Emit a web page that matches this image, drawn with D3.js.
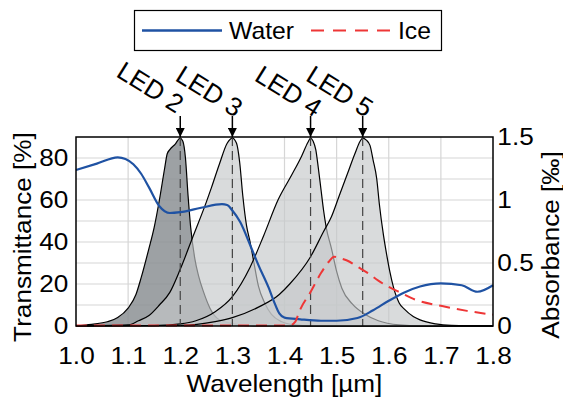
<!DOCTYPE html>
<html>
<head>
<meta charset="utf-8">
<script src="https://cdn.jsdelivr.net/npm/d3@7"></script>
<style>
  body { margin: 0; background: #fff; }
  text { font-family: "Liberation Sans", Arial, sans-serif; }
</style>
</head>
<body>
<div id="chart"></div>
<script>
// wavelength ticks and axis labels
var xTicks = [1.0, 1.1, 1.2, 1.3, 1.4, 1.5, 1.6, 1.7, 1.8];
var leftTicks = [0, 20, 40, 60, 80];
var leftGrid = [10, 20, 30, 40, 50, 60, 70, 80];
var rightTicks = [0, 0.5, 1, 1.5];

// water transmittance [%] (left axis)
var waterX = [1.00, 1.04, 1.08, 1.095, 1.11, 1.125, 1.14, 1.16, 1.18, 1.20, 1.24, 1.28, 1.29, 1.30, 1.315, 1.335, 1.35, 1.37, 1.38, 1.39, 1.40, 1.43, 1.47, 1.50, 1.54, 1.57, 1.60, 1.63, 1.66, 1.70, 1.74, 1.77, 1.80];
var waterY = [74.3, 77.3, 80.3, 79.5, 77.0, 72.5, 66.0, 57.0, 53.8, 54.2, 56.3, 58.0, 57.6, 55.0, 49.5, 38.0, 29.0, 18.0, 11.5, 6.0, 4.0, 3.2, 2.5, 2.5, 3.8, 7.5, 12.0, 16.0, 18.8, 20.3, 19.4, 16.3, 19.4];

// ice absorbance [per mille] (right axis)
var iceX = [1.00, 1.41, 1.42, 1.43, 1.45, 1.47, 1.485, 1.495, 1.505, 1.52, 1.54, 1.56, 1.58, 1.60, 1.62, 1.65, 1.70, 1.75, 1.80];
var iceY = [0.004, 0.004, 0.03, 0.13, 0.27, 0.42, 0.51, 0.55, 0.54, 0.52, 0.47, 0.42, 0.36, 0.31, 0.27, 0.21, 0.16, 0.12, 0.09];

// LED spectra, drawn on the left axis scale
var ledNames = ["LED 2", "LED 3", "LED 4", "LED 5"];
var ledPeaks = [1.20, 1.30, 1.45, 1.55];
var led2X = [1.00, 1.03, 1.06, 1.08, 1.10, 1.115, 1.125, 1.14, 1.15, 1.16, 1.17, 1.175, 1.18, 1.19, 1.20, 1.205, 1.21, 1.215, 1.22, 1.228, 1.235, 1.245, 1.257, 1.275, 1.30, 1.34, 1.80];
var led2Y = [0, 0.8, 2, 4, 8.5, 15, 23, 37, 47, 60, 75, 82, 84, 86.5, 89.5, 88, 80, 62, 47, 32, 24, 16, 8.5, 3, 1.2, 0, 0];
var led3X = [1.00, 1.10, 1.12, 1.14, 1.16, 1.18, 1.20, 1.225, 1.25, 1.26, 1.275, 1.29, 1.30, 1.308, 1.314, 1.32, 1.327, 1.334, 1.34, 1.35, 1.362, 1.375, 1.395, 1.42, 1.45, 1.80];
var led3Y = [0, 0.5, 2.5, 5, 10, 16, 27, 43, 59, 66, 77, 87, 89.5, 87, 78, 62, 48, 40, 32, 19, 11, 5.5, 2, 0.5, 0, 0];
var led4X = [1.00, 1.15, 1.20, 1.23, 1.267, 1.30, 1.334, 1.36, 1.3875, 1.414, 1.433, 1.445, 1.45, 1.455, 1.46, 1.465, 1.47, 1.475, 1.48, 1.49, 1.50, 1.51, 1.53, 1.555, 1.58, 1.62, 1.66, 1.80];
var led4Y = [0, 0.2, 1, 2.5, 6.8, 14, 28, 43, 60, 72, 81, 87.5, 89.5, 88, 84, 75, 65, 55, 47, 37, 26, 18, 10.5, 5.5, 2.5, 0.5, 0, 0];
var led5X = [1.00, 1.20, 1.267, 1.30, 1.35, 1.39, 1.41, 1.45, 1.475, 1.49, 1.505, 1.52, 1.535, 1.545, 1.55, 1.557, 1.564, 1.57, 1.577, 1.582, 1.59, 1.596, 1.602, 1.609, 1.62, 1.63, 1.647, 1.66, 1.69, 1.72, 1.80];
var led5Y = [0, 0.3, 2.1, 4, 9, 15, 20, 33, 45, 52, 62, 72, 82, 88, 89.5, 88.5, 86, 79, 70, 58, 43, 34, 26, 18.5, 11, 8, 4.5, 2.9, 1, 0.3, 0];

var margin = { top: 137, right: 70, bottom: 74, left: 76 },
    width = 563 - margin.left - margin.right,
    height = 400 - margin.top - margin.bottom;

// label nudges (px) so the LED names sit like the original
var labelDx = [-4, 3, 4, 3];
var labelY = [-23, -19, -19, -19];
var stretch = "scale(1.09,1)";

var svg = d3.select("#chart")
  .append("svg")
    .attr("width", 563)
    .attr("height", 400);

var defs = svg.append("defs");
defs.append("marker")
    .attr("id", "arrow")
    .attr("viewBox", "0 0 10 10")
    .attr("refX", 10).attr("refY", 5)
    .attr("markerWidth", 9).attr("markerHeight", 9)
    .attr("markerUnits", "userSpaceOnUse")
    .attr("orient", "auto")
  .append("path")
    .attr("d", "M0,0L10,5L0,10Z")
    .style("fill", "#000");

var g = svg.append("g")
    .attr("transform", "translate(" + margin.left + "," + margin.top + ")");

var x = d3.scaleLinear().domain([1.0, 1.8]).range([0, width]);
var yL = d3.scaleLinear().domain([0, 90]).range([height, 0]);
var yR = d3.scaleLinear().domain([0, 1.5]).range([height, 0]);

// grid
g.append("g").selectAll("line")
  .data(xTicks.slice(1, -1))
  .enter().append("line")
    .attr("x1", d => x(d)).attr("x2", d => x(d))
    .attr("y1", 0).attr("y2", height)
    .style("stroke", "#d6d6d6").style("stroke-width", 1.2);
g.append("g").selectAll("line")
  .data(leftGrid)
  .enter().append("line")
    .attr("x1", 0).attr("x2", width)
    .attr("y1", d => yL(d)).attr("y2", d => yL(d))
    .style("stroke", "#d6d6d6").style("stroke-width", 1.2);

// LED spectra
var area = d3.area()
    .x(d => x(d[0]))
    .y0(height)
    .y1(d => yL(d[1]))
    .curve(d3.curveMonotoneX);
var outline = d3.line()
    .x(d => x(d[0]))
    .y(d => yL(d[1]))
    .curve(d3.curveMonotoneX);

var leds = [
  { xs: led2X, ys: led2Y, fill: "#8c9094", op: 0.85 },
  { xs: led3X, ys: led3Y, fill: "#c4c7ca", op: 0.65 },
  { xs: led4X, ys: led4Y, fill: "#c4c7ca", op: 0.65 },
  { xs: led5X, ys: led5Y, fill: "#c4c7ca", op: 0.65 }
];
leds.forEach(function (led) {
  var pts = led.xs.map((v, i) => [v, led.ys[i]]);
  g.append("path")
    .attr("d", area(pts))
    .style("fill", led.fill)
    .style("fill-opacity", led.op);
  g.append("path")
    .attr("d", outline(pts))
    .style("fill", "none")
    .style("stroke", "#000")
    .style("stroke-width", 1.2);
});

// dashed lines at the LED peaks
g.append("g").selectAll("line")
  .data(ledPeaks)
  .enter().append("line")
    .attr("x1", d => x(d)).attr("x2", d => x(d))
    .attr("y1", 0).attr("y2", height)
    .style("stroke", "#444")
    .style("stroke-width", 1.2)
    .style("stroke-dasharray", "9,5");

// water
g.append("path")
  .datum(waterX.map((v, i) => [v, waterY[i]]))
  .attr("d", d3.line().x(d => x(d[0])).y(d => yL(d[1])).curve(d3.curveMonotoneX))
  .style("fill", "none")
  .style("stroke", "#1f52a3")
  .style("stroke-width", 2.2);

// ice
g.append("path")
  .datum(iceX.map((v, i) => [v, iceY[i]]))
  .attr("d", d3.line().x(d => x(d[0])).y(d => yR(d[1])).curve(d3.curveMonotoneX))
  .style("fill", "none")
  .style("stroke", "#ee3636")
  .style("stroke-width", 2)
  .style("stroke-dasharray", "11,7");

// frame
g.append("rect")
  .attr("width", width).attr("height", height)
  .style("fill", "none").style("stroke", "#000").style("stroke-width", 1.5);

// axes
var xAxis = g.append("g")
  .attr("transform", "translate(0," + height + ")")
  .call(d3.axisBottom(x).tickValues(xTicks).tickFormat(d3.format(".1f")).tickSize(0).tickPadding(21));
var lAxis = g.append("g")
  .call(d3.axisLeft(yL).tickValues(leftTicks).tickSize(0).tickPadding(7));
var rAxis = g.append("g")
  .attr("transform", "translate(" + width + ",0)")
  .call(d3.axisRight(yR).tickValues(rightTicks).tickFormat(d3.format("")).tickSize(0).tickPadding(4));
[xAxis, lAxis, rAxis].forEach(function (a) {
  a.select(".domain").remove();
  a.selectAll("text")
    .attr("transform", stretch)
    .style("font-family", "'Liberation Sans', Arial, sans-serif")
    .style("font-size", "24px")
    .style("fill", "#000");
});

// axis titles
svg.append("text")
  .attr("transform", "translate(" + (margin.left + width / 2) + ",392) " + stretch)
  .attr("text-anchor", "middle")
  .style("font-size", "24px")
  .text("Wavelength [µm]");
svg.append("text")
  .attr("transform", "translate(31,237) rotate(-90) " + stretch)
  .attr("text-anchor", "middle")
  .style("font-size", "24px")
  .text("Transmittance [%]");
svg.append("text")
  .attr("transform", "translate(559,245) rotate(-90) " + stretch)
  .attr("text-anchor", "middle")
  .style("font-size", "24px")
  .text("Absorbance [‰]");

// LED arrows and labels
ledPeaks.forEach(function (p, i) {
  g.append("line")
    .attr("x1", x(p)).attr("x2", x(p))
    .attr("y1", -21).attr("y2", 0)
    .style("stroke", "#000")
    .style("stroke-width", 1.5)
    .attr("marker-end", "url(#arrow)");
  g.append("text")
    .attr("transform", "translate(" + (x(p) + labelDx[i]) + "," + labelY[i] + ") rotate(32)")
    .attr("text-anchor", "end")
    .style("font-size", "26px")
    .text(ledNames[i]);
});

// legend
var legend = svg.append("g");
legend.append("rect")
  .attr("x", 134.5).attr("y", 10.5)
  .attr("width", 307).attr("height", 40)
  .style("fill", "#fff").style("stroke", "#000").style("stroke-width", 1.2);
legend.append("line")
  .attr("x1", 142).attr("x2", 222).attr("y1", 30.5).attr("y2", 30.5)
  .style("stroke", "#1f52a3").style("stroke-width", 2.5);
legend.append("text")
  .attr("transform", "translate(229,39) scale(1.03,1)")
  .style("font-size", "24px")
  .text("Water");
legend.append("line")
  .attr("x1", 311).attr("x2", 392).attr("y1", 30.5).attr("y2", 30.5)
  .style("stroke", "#ee3636").style("stroke-width", 2)
  .style("stroke-dasharray", "13,9");
legend.append("text")
  .attr("transform", "translate(398,39) scale(1.03,1)")
  .style("font-size", "24px")
  .text("Ice");
</script>
</body>
</html>
